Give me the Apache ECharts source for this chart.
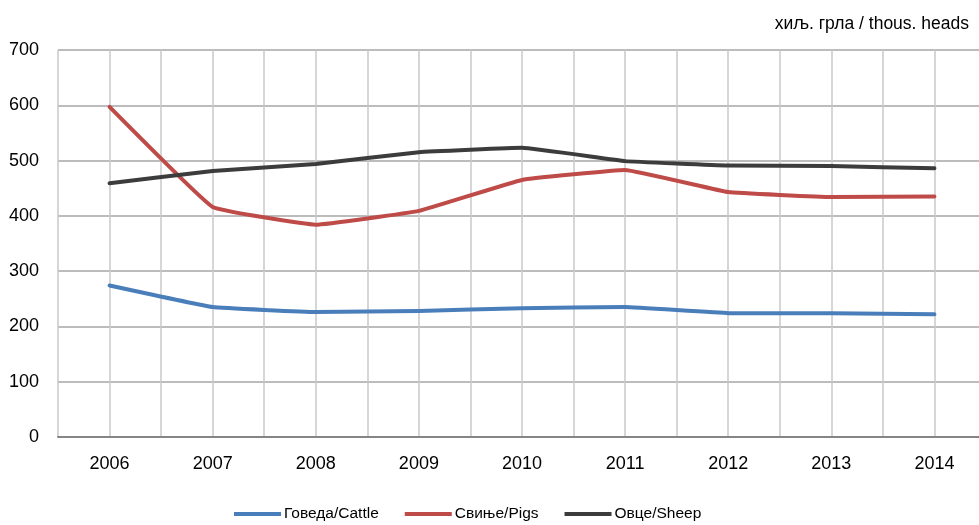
<!DOCTYPE html>
<html><head><meta charset="utf-8">
<script src="https://cdn.jsdelivr.net/npm/echarts@6/dist/echarts.min.js"></script>
<style>html,body{margin:0;padding:0;background:#fff}#c{width:979px;height:525px}</style>
</head><body><div id="c"></div>
<script>
const years = ['2006','2007','2008','2009','2010','2011','2012','2013','2014'];
const cattle = [274, 235, 226, 228, 233, 235, 224, 224, 222];
const pigs = [597, 416, 384, 409, 465, 483, 443, 434, 435];
const sheep = [459, 481, 494, 515, 523, 499, 491, 490, 486];
const yTicks = {min: 0, max: 700, interval: 100};
const unitText = 'хиљ. грла / thous. heads';
const names = ['Говеда/Cattle', 'Свиње/Pigs', 'Овце/Sheep'];
const colors = ['#4a7ebb', '#be4b48', '#3c3c3c'];

const font = "'Liberation Sans', Arial, sans-serif";
const chart = echarts.init(document.getElementById('c'), null, {renderer: 'canvas'});
const mk = (i, data) => ({
  name: names[i], type: 'line', data, xAxisIndex: 0, yAxisIndex: 0,
  symbol: 'none', smooth: 0.08, color: colors[i],
  lineStyle: {width: 4, color: colors[i], cap: 'round', join: 'round'}
});
chart.setOption({
  animation: false,
  textStyle: {fontFamily: font},
  grid: {left: 58, width: 928, top: 50, bottom: 88, containLabel: false, outerBoundsMode: 'none'},
  title: {text: unitText, right: 5, top: 10,
    textStyle: {fontFamily: font, fontSize: 17.5, fontWeight: 'normal', color: '#000'}},
  legend: {bottom: -2, left: 229, icon: 'rect', itemWidth: 47, itemHeight: 4, itemGap: 26,
    textStyle: {fontFamily: font, fontSize: 15.5, color: '#000', padding: [0,0,0,-2]},
    data: names},
  xAxis: [{
    type: 'category', data: years, boundaryGap: true,
    axisLine: {show: true, lineStyle: {color: '#858585', width: 2}},
    axisTick: {show: false},
    axisLabel: {color: '#000', fontSize: 18, margin: 18, fontFamily: font},
    splitLine: {show: false}
  }, {
    type: 'value', min: 0, max: 9, interval: 0.5, show: true, position: 'bottom',
    axisLine: {show: false}, axisTick: {show: false}, axisLabel: {show: false},
    splitLine: {show: true, lineStyle: {color: '#c8c8c8', width: 1.5}}
  }],
  yAxis: {
    type: 'value', min: yTicks.min, max: yTicks.max, interval: yTicks.interval,
    axisLine: {show: false}, axisTick: {show: false},
    axisLabel: {color: '#000', fontSize: 18, margin: 19, fontFamily: font},
    splitLine: {lineStyle: {color: '#a6a6a6', width: 1.5}}
  },
  series: [mk(0, cattle), mk(1, pigs), mk(2, sheep)]
});
</script></body></html>
